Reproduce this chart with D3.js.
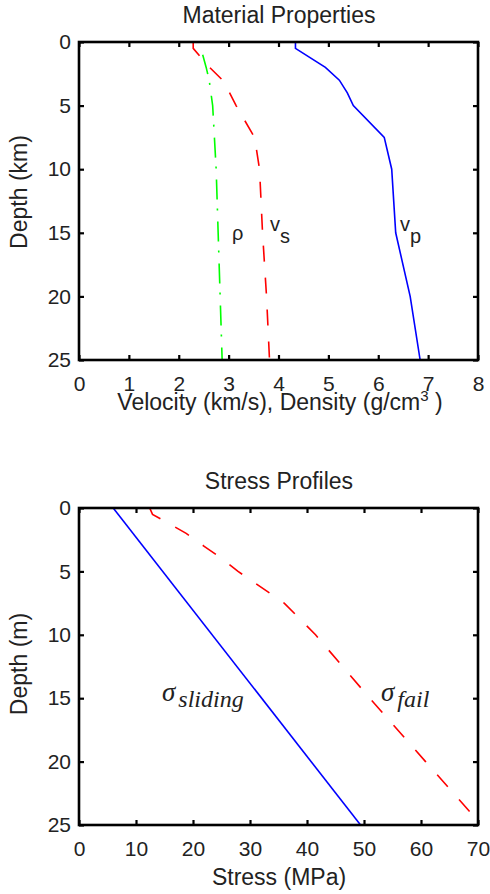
<!DOCTYPE html>
<html>
<head>
<meta charset="utf-8">
<script src="https://cdn.jsdelivr.net/npm/d3@7"></script>
<style>
  body { margin: 0; background: #fff; }
  svg { display: block; }
  .tick text { font-family: "Liberation Sans", Arial, sans-serif; font-size: 21px; fill: #222; }
  .label { font-family: "Liberation Sans", Arial, sans-serif; font-size: 23px; fill: #222; }
</style>
</head>
<body>
<div class="chartWrap"></div>
<script>
// top panel: material properties vs depth (km)
var depthKm = [0, 0.5, 2, 3, 4, 5, 7.5, 10, 15, 20, 25];
var vp = [4.34, 4.34, 4.94, 5.22, 5.38, 5.50, 6.12, 6.27, 6.35, 6.64, 6.84];
var vs = [2.29, 2.29, 2.62, 2.88, 3.02, 3.15, 3.52, 3.62, 3.68, 3.76, 3.82];
var rhoDepth = [1, 2, 3, 5, 10, 15, 20, 25];
var rho = [2.48, 2.55, 2.61, 2.68, 2.75, 2.79, 2.83, 2.87];
var velTicks = [0, 1, 2, 3, 4, 5, 6, 7, 8];
var depthTicks = [0, 5, 10, 15, 20, 25];

// bottom panel: stress profiles vs depth (m)
var slideDepth = [0, 25];
var sigmaSliding = [6.0, 49.4];
var failDepth = [0, 0.5, 2, 3, 4, 5, 7.5, 10, 15, 20, 25];
var sigmaFail = [12.4, 12.9, 18.8, 21.9, 25.1, 27.9, 36.0, 41.5, 51.0, 60.8, 70.6];
var stressTicks = [0, 10, 20, 30, 40, 50, 60, 70];

var width = 490, height = 894;
var svg = d3.select('.chartWrap').append('svg')
  .attr('width', width)
  .attr('height', height);

function panel(cfg) {
  var x = d3.scaleLinear().domain(cfg.xDomain).range([79, 478]);
  var y = d3.scaleLinear().domain([0, 25]).range([cfg.top, cfg.bottom]);
  var g = svg.append('g');

  g.append('clipPath').attr('id', cfg.id + 'clip')
    .append('rect')
    .attr('x', 79).attr('y', cfg.top)
    .attr('width', 399).attr('height', cfg.bottom - cfg.top);

  // axes with inward ticks on all four sides
  g.append('g')
    .attr('transform', 'translate(0,' + cfg.bottom + ')')
    .call(d3.axisBottom(x).tickValues(cfg.xTicks).tickSize(-5).tickPadding(cfg.xPad).tickFormat(d3.format('d')));
  g.append('g')
    .attr('transform', 'translate(0,' + cfg.top + ')')
    .call(d3.axisTop(x).tickValues(cfg.xTicks).tickSize(-5).tickFormat(''));
  g.append('g')
    .attr('transform', 'translate(79,0)')
    .call(d3.axisLeft(y).tickValues(depthTicks).tickSize(-5).tickPadding(8).tickFormat(d3.format('d')));
  g.append('g')
    .attr('transform', 'translate(478,0)')
    .call(d3.axisRight(y).tickValues(depthTicks).tickSize(-5).tickFormat(''));
  g.selectAll('.domain').remove();
  g.selectAll('.tick line').attr('stroke', '#000').attr('stroke-width', 2.2);

  cfg.series.forEach(function(s) {
    var pts = s.depth.map(function(d, i){ return [s.vals[i], d]; });
    g.append('path')
      .datum(pts)
      .attr('clip-path', 'url(#' + cfg.id + 'clip)')
      .attr('d', d3.line().x(function(d){ return x(d[0]); }).y(function(d){ return y(d[1]); }))
      .attr('fill', 'none')
      .attr('stroke', s.color)
      .attr('stroke-width', 1.6)
      .attr('stroke-dasharray', s.dash || null);
  });

  g.append('rect')
    .attr('x', 79).attr('y', cfg.top)
    .attr('width', 399).attr('height', cfg.bottom - cfg.top)
    .attr('fill', 'none').attr('stroke', '#000').attr('stroke-width', 2.6);

  g.append('text').attr('class', 'label')
    .attr('x', 279).attr('y', cfg.top - 19)
    .attr('text-anchor', 'middle').text(cfg.title);
  g.append('text').attr('class', 'label')
    .attr('transform', 'translate(27,' + cfg.yLabelY + ') rotate(-90)')
    .attr('text-anchor', 'middle').text(cfg.yLabel);

  return {g: g, x: x, y: y};
}

var matPanel = panel({
  id: 'mat', top: 42, bottom: 360, xDomain: [0, 8], xTicks: velTicks, xPad: 16,
  title: 'Material Properties', yLabel: 'Depth (km)', yLabelY: 192,
  series: [
    {depth: rhoDepth, vals: rho, color: '#00ff00', dash: '20,9,2,11'},
    {depth: depthKm, vals: vs, color: '#ff0000', dash: '16,16'},
    {depth: depthKm, vals: vp, color: '#0000ff'}
  ]
});

var xl = matPanel.g.append('text').attr('class', 'label')
  .attr('x', 280).attr('y', 410).attr('text-anchor', 'middle');
xl.append('tspan').text('Velocity (km/s), Density (g/cm');
xl.append('tspan').attr('dy', -9).style('font-size', '15px').text('3');
xl.append('tspan').attr('dy', 9).text(' )');

var curveFont = '"Liberation Sans", Arial, sans-serif';
matPanel.g.append('text').attr('x', 232).attr('y', 240)
  .style('font-family', curveFont).style('font-size', '20px').attr('fill', '#222').text('ρ');
var vsLab = matPanel.g.append('text').attr('x', 270).attr('y', 231)
  .style('font-family', curveFont).style('font-size', '20px').attr('fill', '#222');
vsLab.append('tspan').text('v');
vsLab.append('tspan').attr('dy', 12).text('s');
var vpLab = matPanel.g.append('text').attr('x', 400).attr('y', 231)
  .style('font-family', curveFont).style('font-size', '20px').attr('fill', '#222');
vpLab.append('tspan').text('v');
vpLab.append('tspan').attr('dy', 12).text('p');

var stressPanel = panel({
  id: 'str', top: 508, bottom: 825, xDomain: [0, 70], xTicks: stressTicks, xPad: 16,
  title: 'Stress Profiles', yLabel: 'Depth (m)', yLabelY: 664,
  series: [
    {depth: slideDepth, vals: sigmaSliding, color: '#0000ff'},
    {depth: failDepth, vals: sigmaFail, color: '#ff0000', dash: '16,17'}
  ]
});

stressPanel.g.append('text').attr('class', 'label')
  .attr('x', 279).attr('y', 885).attr('text-anchor', 'middle').text('Stress (MPa)');

var serif = '"Liberation Serif", "Times New Roman", serif';
function sigmaLabel(x0, sub) {
  var t = stressPanel.g.append('text').attr('x', x0).attr('y', 701)
    .style('font-family', serif).style('font-style', 'italic').attr('fill', '#222');
  t.append('tspan').style('font-size', '27px').text('σ');
  t.append('tspan').attr('dx', 3).attr('dy', 6).style('font-size', '24px').text(sub);
}
sigmaLabel(162, 'sliding');
sigmaLabel(381, 'fail');
</script>
</body>
</html>
